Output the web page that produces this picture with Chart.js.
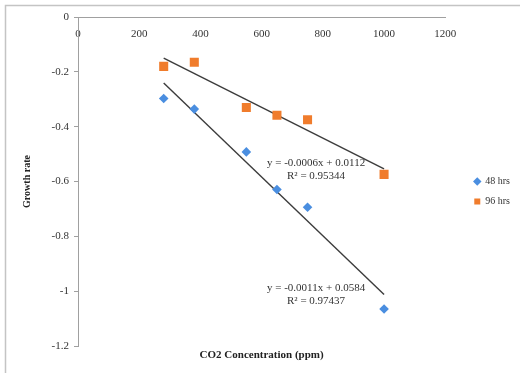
<!DOCTYPE html>
<html>
<head>
<meta charset="utf-8">
<script src="https://cdn.jsdelivr.net/npm/chart.js@4.4.1/dist/chart.umd.min.js"></script>
<style>
  html, body { margin: 0; padding: 0; background: #fff; }
  #wrap { width: 520px; height: 373px; }
</style>
</head>
<body>
<div id="wrap"><canvas id="growthChart"></canvas></div>
<script>
// CO2 浓度 (ppm)
const co2Levels = [280, 380, 550, 650, 750, 1000];
// 生长速率
const rate48 = [-0.297, -0.336, -0.492, -0.629, -0.694, -1.065];
const rate96 = [-0.180, -0.165, -0.330, -0.358, -0.375, -0.574];
const seriesNames = ['48 hrs', '96 hrs'];
const fitLabels = [
    ['y = -0.0011x + 0.0584', 'R\u00b2 = 0.97437'],
    ['y = -0.0006x + 0.0112', 'R\u00b2 = 0.95344']
];
const yTicks = [0, -0.2, -0.4, -0.6, -0.8, -1, -1.2];
const xTicks = [0, 200, 400, 600, 800, 1000, 1200];

const serif = "'Liberation Serif', 'DejaVu Serif', serif";

// 最小二乘拟合
function linearFit(xs, ys) {
    const n = xs.length;
    const mx = xs.reduce((s, v) => s + v, 0) / n;
    const my = ys.reduce((s, v) => s + v, 0) / n;
    let sxy = 0, sxx = 0;
    xs.forEach((x, i) => {
        sxy += (x - mx) * (ys[i] - my);
        sxx += (x - mx) * (x - mx);
    });
    const slope = sxy / sxx;
    return { slope: slope, intercept: my - slope * mx };
}

function trendPoints(xs, ys) {
    const fit = linearFit(xs, ys);
    const x0 = Math.min(...xs), x1 = Math.max(...xs);
    return [
        { x: x0, y: fit.intercept + fit.slope * x0 },
        { x: x1, y: fit.intercept + fit.slope * x1 }
    ];
}

const toPoints = ys => co2Levels.map((x, i) => ({ x: x, y: ys[i] }));
const plainNumber = v => String(Number(v.toFixed(2)));

// 外框、x轴标题和趋势线公式
const decorPlugin = {
    id: 'decor',
    beforeDraw(chart) {
        const ctx = chart.ctx;
        ctx.save();
        ctx.fillStyle = '#fff';
        ctx.fillRect(0, 0, chart.width, chart.height);
        ctx.strokeStyle = '#c4c4c4';
        ctx.lineWidth = 1.5;
        ctx.strokeRect(5.5, 5.5, chart.width + 10, chart.height + 10);
        ctx.restore();
    },
    afterDraw(chart) {
        const ctx = chart.ctx;
        const area = chart.chartArea;
        ctx.save();
        ctx.fillStyle = '#222';
        ctx.font = 'bold 11px ' + serif;
        ctx.textAlign = 'center';
        ctx.textBaseline = 'middle';
        ctx.fillText('CO2 Concentration (ppm)', (area.left + area.right) / 2, area.bottom + 9);

        ctx.font = '11px ' + serif;
        ctx.fillStyle = '#333';
        [2, 3].forEach((dsIndex, k) => {
            const meta = chart.getDatasetMeta(dsIndex);
            const end = meta.data[meta.data.length - 1];
            const cx = end.x - 68;
            ctx.fillText(fitLabels[k][0], cx, end.y - 6);
            ctx.fillText(fitLabels[k][1], cx, end.y + 7);
        });
        ctx.restore();
    }
};

new Chart(document.getElementById('growthChart'), {
    type: 'scatter',
    data: {
        datasets: [
            {
                label: seriesNames[0],
                data: toPoints(rate48),
                pointStyle: 'rectRot',
                pointRadius: 4.8,
                backgroundColor: '#4a8ee0',
                borderColor: '#4a8ee0',
                borderWidth: 0
            },
            {
                label: seriesNames[1],
                data: toPoints(rate96),
                pointStyle: 'rect',
                pointRadius: 6.4,
                backgroundColor: '#f07c2c',
                borderColor: '#f07c2c',
                borderWidth: 0
            },
            {
                label: 'trend48',
                type: 'line',
                data: trendPoints(co2Levels, rate48),
                borderColor: '#3c3c3c',
                borderWidth: 1.4,
                pointRadius: 0
            },
            {
                label: 'trend96',
                type: 'line',
                data: trendPoints(co2Levels, rate96),
                borderColor: '#3c3c3c',
                borderWidth: 1.4,
                pointRadius: 0
            }
        ]
    },
    options: {
        responsive: true,
        maintainAspectRatio: false,
        animation: false,
        layout: { padding: { top: 17, bottom: 27, left: 0, right: 0 } },
        plugins: {
            legend: {
                position: 'right',
                title: { display: true, text: '', font: { size: 1 }, padding: { top: 10, bottom: 9 } },
                labels: {
                    usePointStyle: true,
                    boxWidth: 6,
                    boxHeight: 6,
                    padding: 10,
                    color: '#333',
                    font: { family: serif, size: 10 },
                    filter: item => item.datasetIndex < 2
                }
            },
            tooltip: { enabled: false }
        },
        scales: {
            x: {
                type: 'linear',
                position: { y: 0 },
                min: 0,
                max: 1200,
                afterBuildTicks: axis => { axis.ticks = xTicks.map(v => ({ value: v })); },
                grid: { display: false },
                border: { color: '#a0a0a0' },
                ticks: { color: '#333', padding: 3, font: { family: serif, size: 11 }, callback: plainNumber }
            },
            y: {
                type: 'linear',
                min: -1.2,
                max: 0,
                afterBuildTicks: axis => { axis.ticks = yTicks.map(v => ({ value: v })); },
                afterFit: axis => { axis.width = 78; },
                grid: { drawOnChartArea: false, tickLength: 4, color: '#a0a0a0' },
                border: { color: '#a0a0a0' },
                ticks: { color: '#333', padding: 5, font: { family: serif, size: 11 }, callback: plainNumber },
                title: {
                    display: true,
                    text: 'Growth rate',
                    color: '#222',
                    font: { family: serif, size: 10, weight: 'bold' },
                    padding: { top: 21, bottom: 0 }
                }
            },
            gap: {
                type: 'linear',
                position: 'right',
                display: true,
                grid: { display: false },
                border: { display: false },
                ticks: { display: false },
                afterFit: axis => { axis.width = 19; }
            }
        }
    },
    plugins: [decorPlugin]
});
</script>
</body>
</html>
